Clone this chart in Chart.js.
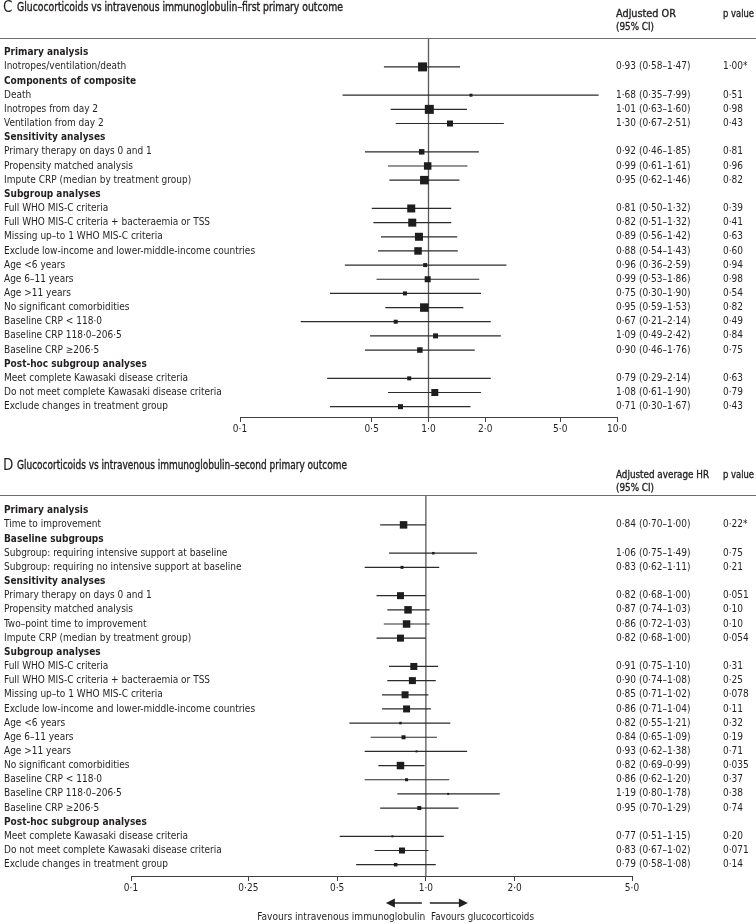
<!DOCTYPE html>
<html>
<head>
<meta charset="utf-8">
<script src="https://cdn.jsdelivr.net/npm/chart.js@4.4.1/dist/chart.umd.min.js"></script>
<style>
  html, body { margin: 0; padding: 0; background: #fff; }
  body {
    width: 756px; height: 924px; position: relative; overflow: hidden;
    font-family: "DejaVu Sans Condensed", "DejaVu Sans", sans-serif;
    color: #231f20;
  }
  canvas { position: absolute; left: 0; }
  .txt { position: absolute; white-space: nowrap; font-size: 11px; line-height: 14px; transform-origin: left center; }
  .txt.r { transform-origin: right center; }
  .semi { -webkit-text-stroke: 0.35px #231f20; }
  .title { font-size: 11.5px; }
  .panel { position: absolute; left: 3px; font-size: 15px; line-height: 16px; }
  .rule { position: absolute; left: 0; width: 756px; height: 0; border-top: 1.5px solid #6d6e71; }
</style>
</head>
<body>
<canvas id="chartC" width="756" height="445" style="top:0"></canvas>
<canvas id="chartD" width="756" height="464" style="top:460px"></canvas>

<div class="panel" style="top:-1px">C</div>
<div class="txt semi title" data-w="326" style="left:17px; top:0px">Glucocorticoids vs intravenous immunoglobulin–first primary outcome</div>
<div class="txt semi" data-w="60" style="left:616px; top:7px">Adjusted OR</div>
<div class="txt semi" data-w="38" style="left:616px; top:20px">(95% CI)</div>
<div class="txt semi" data-w="31" style="left:723px; top:7px">p value</div>
<div class="rule" style="top:38px"></div>

<div class="panel" style="top:457px">D</div>
<div class="txt semi title" data-w="330" style="left:17px; top:458px">Glucocorticoids vs intravenous immunoglobulin–second primary outcome</div>
<div class="txt semi" data-w="93" style="left:616px; top:468px">Adjusted average HR</div>
<div class="txt semi" data-w="38" style="left:616px; top:481px">(95% CI)</div>
<div class="txt semi" data-w="31" style="left:723px; top:468px">p value</div>
<div class="rule" style="top:495px"></div>

<div class="txt r" data-w="168" style="right:331px; top:910px">Favours intravenous immunoglobulin</div>
<div class="txt" data-w="103" style="left:431px; top:910px">Favours glucocorticoids</div>

<script>
// Panel C - first primary outcome (adjusted OR)
const labelsC = [
    'Primary analysis',
    'Inotropes/ventilation/death',
    'Components of composite',
    'Death',
    'Inotropes from day 2',
    'Ventilation from day 2',
    'Sensitivity analyses',
    'Primary therapy on days 0 and 1',
    'Propensity matched analysis',
    'Impute CRP (median by treatment group)',
    'Subgroup analyses',
    'Full WHO MIS-C criteria',
    'Full WHO MIS-C criteria + bacteraemia or TSS',
    'Missing up–to 1 WHO MIS-C criteria',
    'Exclude low-income and lower-middle-income countries',
    'Age <6 years',
    'Age 6–11 years',
    'Age >11 years',
    'No significant comorbidities',
    'Baseline CRP < 118·0',
    'Baseline CRP 118·0–206·5',
    'Baseline CRP ≥206·5',
    'Post-hoc subgroup analyses',
    'Meet complete Kawasaki disease criteria',
    'Do not meet complete Kawasaki disease criteria',
    'Exclude changes in treatment group'
];
const estC = [null, 0.93, null, 1.68, 1.01, 1.30, null, 0.92, 0.99, 0.95, null, 0.81, 0.82, 0.89, 0.88, 0.96, 0.99, 0.75, 0.95, 0.67, 1.09, 0.90, null, 0.79, 1.08, 0.71];
const lowC = [null, 0.58, null, 0.35, 0.63, 0.67, null, 0.46, 0.61, 0.62, null, 0.50, 0.51, 0.56, 0.54, 0.36, 0.53, 0.30, 0.59, 0.21, 0.49, 0.46, null, 0.29, 0.61, 0.30];
const highC = [null, 1.47, null, 7.99, 1.60, 2.51, null, 1.85, 1.61, 1.46, null, 1.32, 1.32, 1.42, 1.43, 2.59, 1.86, 1.90, 1.53, 2.14, 2.42, 1.76, null, 2.14, 1.90, 1.67];
const pValuesC = ['', '1·00*', '', '0·51', '0·98', '0·43', '', '0·81', '0·96', '0·82', '', '0·39', '0·41', '0·63', '0·60', '0·94', '0·98', '0·54', '0·82', '0·49', '0·84', '0·75', '', '0·63', '0·79', '0·43'];
const weightC = [0, 9, 0, 3, 9, 6, 0, 5.5, 7.5, 8.5, 0, 8, 8, 8, 7.5, 4, 6, 4, 8.5, 4, 5, 5.5, 0, 4, 7, 5];
const ticksC = [0.1, 0.5, 1, 2, 5, 10];
const tickLabelsC = ['0·1', '0·5', '1·0', '2·0', '5·0', '10·0'];

// Panel D - second primary outcome (adjusted average HR)
const labelsD = [
    'Primary analysis',
    'Time to improvement',
    'Baseline subgroups',
    'Subgroup: requiring intensive support at baseline',
    'Subgroup: requiring no intensive support at baseline',
    'Sensitivity analyses',
    'Primary therapy on days 0 and 1',
    'Propensity matched analysis',
    'Two–point time to improvement',
    'Impute CRP (median by treatment group)',
    'Subgroup analyses',
    'Full WHO MIS-C criteria',
    'Full WHO MIS-C criteria + bacteraemia or TSS',
    'Missing up–to 1 WHO MIS-C criteria',
    'Exclude low-income and lower-middle-income countries',
    'Age <6 years',
    'Age 6–11 years',
    'Age >11 years',
    'No significant comorbidities',
    'Baseline CRP < 118·0',
    'Baseline CRP 118·0–206·5',
    'Baseline CRP ≥206·5',
    'Post-hoc subgroup analyses',
    'Meet complete Kawasaki disease criteria',
    'Do not meet complete Kawasaki disease criteria',
    'Exclude changes in treatment group'
];
const estD = [null, 0.84, null, 1.06, 0.83, null, 0.82, 0.87, 0.86, 0.82, null, 0.91, 0.90, 0.85, 0.86, 0.82, 0.84, 0.93, 0.82, 0.86, 1.19, 0.95, null, 0.77, 0.83, 0.79];
const lowD = [null, 0.70, null, 0.75, 0.62, null, 0.68, 0.74, 0.72, 0.68, null, 0.75, 0.74, 0.71, 0.71, 0.55, 0.65, 0.62, 0.69, 0.62, 0.80, 0.70, null, 0.51, 0.67, 0.58];
const highD = [null, 1.00, null, 1.49, 1.11, null, 1.00, 1.03, 1.03, 1.00, null, 1.10, 1.08, 1.02, 1.04, 1.21, 1.09, 1.38, 0.99, 1.20, 1.78, 1.29, null, 1.15, 1.02, 1.08];
const pValuesD = ['', '0·22*', '', '0·75', '0·21', '', '0·051', '0·10', '0·10', '0·054', '', '0·31', '0·25', '0·078', '0·11', '0·32', '0·19', '0·71', '0·035', '0·37', '0·38', '0·74', '', '0·20', '0·071', '0·14'];
const weightD = [0, 7.5, 0, 2.5, 3, 0, 7, 7.5, 7.5, 7, 0, 7, 7, 7, 7, 2.5, 4, 2, 7.5, 3, 2, 4, 0, 2, 6, 3.5];
const ticksD = [0.1, 0.25, 0.5, 1, 2, 5];
const tickLabelsD = ['0·1', '0·25', '0·5', '1·0', '2·0', '5·0'];

const REF = 1; // line of no effect

const FONT = '"DejaVu Sans Condensed", "DejaVu Sans", sans-serif';
const TEXT = '#231f20';
Chart.defaults.font.family = FONT;
Chart.defaults.color = TEXT;

const fmt = v => v.toFixed(2).replace('.', '·');

// squeeze the html labels to the widths of the original typeface
document.querySelectorAll('[data-w]').forEach(el => {
    const w = el.getBoundingClientRect().width;
    el.style.transform = `scaleX(${(+el.dataset.w / w).toFixed(3)})`;
});

// arrows under panel D, either side of the line of no effect
const favourArrows = {
    id: 'favourArrows',
    afterDraw(chart) {
        if (!chart.options.plugins.favourArrows.show) return;
        const { ctx, chartArea } = chart;
        const x0 = chart.scales.x.getPixelForValue(REF);
        const y = chartArea.bottom + 27;
        ctx.save();
        ctx.strokeStyle = TEXT;
        ctx.fillStyle = TEXT;
        ctx.lineWidth = 1.5;
        [[-4, -40], [4, 42]].forEach(([a, b]) => {
            const dir = Math.sign(b);
            ctx.beginPath();
            ctx.moveTo(x0 + a, y);
            ctx.lineTo(x0 + b - dir * 8, y);
            ctx.stroke();
            ctx.beginPath();
            ctx.moveTo(x0 + b, y);
            ctx.lineTo(x0 + b - dir * 9, y - 4.5);
            ctx.lineTo(x0 + b - dir * 9, y + 4.5);
            ctx.closePath();
            ctx.fill();
        });
        ctx.restore();
    }
};

function forestChart(id, d) {
    const rowTicks = s => { s.ticks = d.labels.map((_, i) => ({ value: i })); };
    // fixed column widths; labels may run past their box, so no clipping
    const fixWidth = w => s => { s.width = w; s._computeLabelArea = () => undefined; };
    const rowAxis = (extra) => Object.assign({
        type: 'linear',
        reverse: true,
        min: d.yMin,
        max: d.yMax,
        afterBuildTicks: rowTicks,
        grid: { display: false, drawTicks: false },
        border: { display: false }
    }, extra);

    const ciSegments = d.est.flatMap((e, i) => e === null ? [] :
        [{ x: d.low[i], y: i }, { x: d.high[i], y: i }, { x: NaN, y: NaN }]);
    const boxes = d.est.map((e, i) => e === null ? null : { x: e, y: i, w: d.weight[i] })
        .filter(Boolean);

    return new Chart(document.getElementById(id), {
        type: 'scatter',
        data: {
            datasets: [
                {
                    // estimates
                    data: boxes,
                    pointStyle: 'rect',
                    pointRadius: c => c.raw ? c.raw.w / Math.SQRT2 : 0,
                    backgroundColor: '#1d1d1b',
                    borderWidth: 0,
                    order: 0
                },
                {
                    // 95% CI
                    data: ciSegments,
                    showLine: true,
                    spanGaps: false,
                    borderColor: '#2b2b2b',
                    borderWidth: 1.2,
                    pointRadius: 0,
                    order: 1
                },
                {
                    // reference line
                    data: [{ x: REF, y: d.yMin }, { x: REF, y: d.yMax }],
                    showLine: true,
                    borderColor: '#58595b',
                    borderWidth: 1.3,
                    pointRadius: 0,
                    order: 2
                }
            ]
        },
        options: {
            responsive: false,
            animation: false,
            layout: { padding: d.padding },
            plugins: {
                legend: { display: false },
                tooltip: { enabled: false },
                favourArrows: { show: !!d.arrows }
            },
            scales: {
                x: {
                    type: 'logarithmic',
                    min: d.ticks[0],
                    max: d.ticks[d.ticks.length - 1],
                    afterBuildTicks: s => { s.ticks = d.ticks.map(v => ({ value: v })); },
                    afterFit: s => { s.height = 25; },
                    ticks: {
                        callback: v => d.tickLabels[d.ticks.indexOf(v)],
                        autoSkip: false,
                        maxRotation: 0,
                        padding: 1,
                        font: { size: 10 }
                    },
                    grid: { display: true, drawOnChartArea: false, drawTicks: true, tickLength: 5, color: '#414042' },
                    border: { display: true, color: '#414042', width: 1 }
                },
                y: rowAxis({
                    position: 'left',
                    afterFit: fixWidth(d.leftWidth),
                    ticks: {
                        autoSkip: false,
                        crossAlign: 'far',
                        padding: 0,
                        callback: v => d.labels[v],
                        font: c => (c.tick && d.est[c.tick.value] === null)
                            ? { size: 10, weight: 'bold' }
                            : { size: 10, weight: 'normal' }
                    }
                }),
                yCi: rowAxis({
                    position: 'right',
                    weight: 1,
                    afterFit: fixWidth(d.ciWidth),
                    ticks: {
                        autoSkip: false,
                        crossAlign: 'near',
                        padding: d.ciPad,
                        font: { size: 10 },
                        callback: v => d.est[v] === null ? '' :
                            `${fmt(d.est[v])} (${fmt(d.low[v])}–${fmt(d.high[v])})`
                    }
                }),
                yP: rowAxis({
                    position: 'right',
                    weight: 2,
                    afterFit: fixWidth(d.pWidth),
                    ticks: {
                        autoSkip: false,
                        crossAlign: 'near',
                        padding: 0,
                        font: { size: 10 },
                        callback: v => d.p[v]
                    }
                })
            }
        },
        plugins: [favourArrows]
    });
}

forestChart('chartC', {
    labels: labelsC, est: estC, low: lowC, high: highC, p: pValuesC, weight: weightC,
    ticks: ticksC, tickLabels: tickLabelsC,
    yMin: -0.97, yMax: 25.73,
    padding: { top: 39, left: 4, right: 0, bottom: 3 },
    leftWidth: 236, ciWidth: 106, ciPad: -1, pWidth: 33
});

forestChart('chartD', {
    labels: labelsD, est: estD, low: lowD, high: highD, p: pValuesD, weight: weightD,
    ticks: ticksD, tickLabels: tickLabelsD,
    yMin: -1.04, yMax: 25.8,
    padding: { top: 36, left: 4, right: 0, bottom: 23 },
    leftWidth: 127, ciWidth: 91, ciPad: -16, pWidth: 33,
    arrows: true
});
</script>
</body>
</html>
